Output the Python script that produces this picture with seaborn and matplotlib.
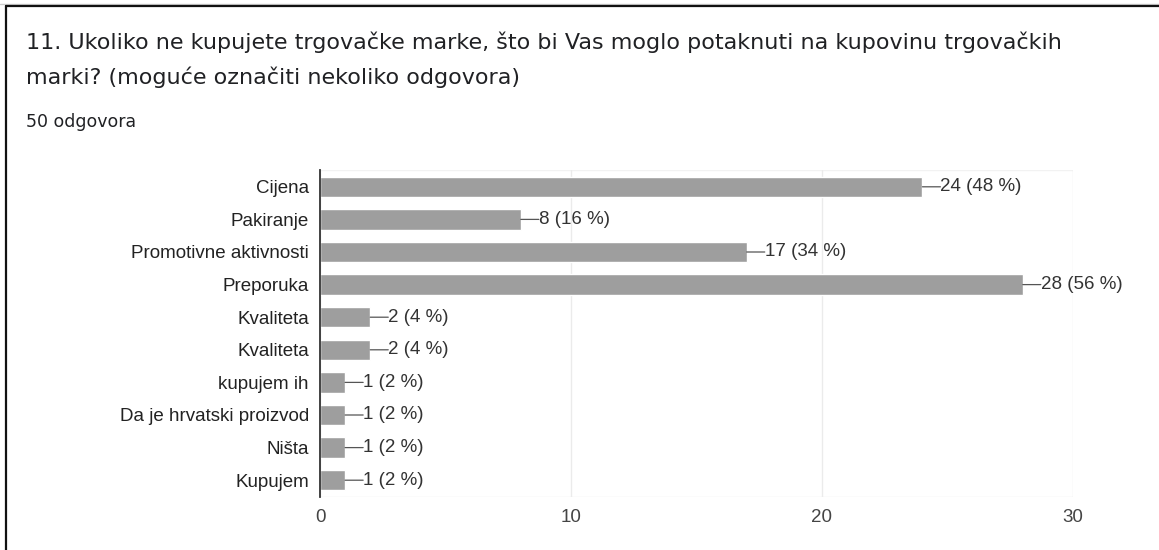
import matplotlib
matplotlib.use("Agg")
import matplotlib.pyplot as plt
from matplotlib.lines import Line2D
import seaborn as sns
import pandas as pd

categories = ["Cijena", "Pakiranje", "Promotivne aktivnosti", "Preporuka", "Kvaliteta",
              "Kvaliteta ", "kupujem ih", "Da je hrvatski proizvod", "Ništa", "Kupujem"]
tick_labels = ["Cijena", "Pakiranje", "Promotivne aktivnosti", "Preporuka", "Kvaliteta",
               "Kvaliteta", "kupujem ih", "Da je hrvatski proizvod", "Ništa", "Kupujem"]
counts = [24, 8, 17, 28, 2, 2, 1, 1, 1, 1]
percents = [48, 16, 34, 56, 4, 4, 2, 2, 2, 2]
x_ticks = [0, 10, 20, 30]

title_line1 = "11. Ukoliko ne kupujete trgovačke marke, što bi Vas moglo potaknuti na kupovinu trgovačkih"
title_line2 = "marki? (moguće označiti nekoliko odgovora)"
subtitle = "50 odgovora"

sns.set_theme(style="white")
plt.rcParams['font.family'] = ['Liberation Sans', 'DejaVu Sans']

df = pd.DataFrame({"cat": categories, "count": counts})

W, H = 1159, 550
fig = plt.figure(figsize=(W / 100, H / 100), dpi=100)
ax = fig.add_axes([320 / W, 1 - 496.5 / H, (1073 - 320) / W, (496.5 - 170.5) / H])

sns.barplot(data=df, y="cat", x="count", order=categories, color="#9e9e9e",
            saturation=1, width=0.62, ax=ax, orient="h")

FS = 13.5
ax.set_xlim(0, 30)
ax.set_xticks(x_ticks)
ax.set_xticklabels([str(t) for t in x_ticks], fontsize=FS, color="#444444")
ax.set_yticks(range(len(categories)))
ax.set_yticklabels(tick_labels, fontsize=FS, color="#222222")
ax.set_xlabel("")
ax.set_ylabel("")
ax.tick_params(axis="x", length=0, pad=9)
ax.tick_params(axis="y", length=0, pad=8)

for s in ["top", "right", "bottom"]:
    ax.spines[s].set_visible(False)
ax.spines["left"].set_color("#333333")
ax.spines["left"].set_linewidth(1.3)

ax.grid(axis="x", color="#ebebeb", linewidth=1)
ax.set_axisbelow(True)
ax.axhline(len(categories) - 0.5, color="#ebebeb", linewidth=1, zorder=0)
ax.axhline(-0.5, color="#f2f2f2", linewidth=1, zorder=0)

for i, (c, p) in enumerate(zip(counts, percents)):
    ax.annotate("", xy=(c, i), xytext=(13, 0), textcoords="offset points",
                arrowprops=dict(arrowstyle="-", color="#555555", lw=0.9, shrinkA=0, shrinkB=0))
    ax.annotate(f"{c} ({p} %)", xy=(c, i), xytext=(13, 0), textcoords="offset points",
                ha="left", va="center", fontsize=FS, color="#333333")

fig.text(26 / W, 1 - 42 / H, title_line1, fontsize=16, color="#202124",
         va="center", ha="left", family=["DejaVu Sans"])
fig.text(26 / W, 1 - 77 / H, title_line2, fontsize=16, color="#202124",
         va="center", ha="left", family=["DejaVu Sans"])
fig.text(26 / W, 1 - 122 / H, subtitle, fontsize=12.5, color="#202124",
         va="center", ha="left", family=["DejaVu Sans"])

# frame lines (top and left)
fig.add_artist(Line2D([0, 1], [1 - 3.5 / H, 1 - 3.5 / H], transform=fig.transFigure,
                      color="#cccccc", linewidth=1))
fig.add_artist(Line2D([6 / W, 1], [1 - 6 / H, 1 - 6 / H], transform=fig.transFigure,
                      color="#111111", linewidth=1.6))
fig.add_artist(Line2D([6 / W, 6 / W], [0, 1 - 6 / H], transform=fig.transFigure,
                      color="#111111", linewidth=1.6))

fig.savefig("out.png", dpi=100, facecolor="white")
